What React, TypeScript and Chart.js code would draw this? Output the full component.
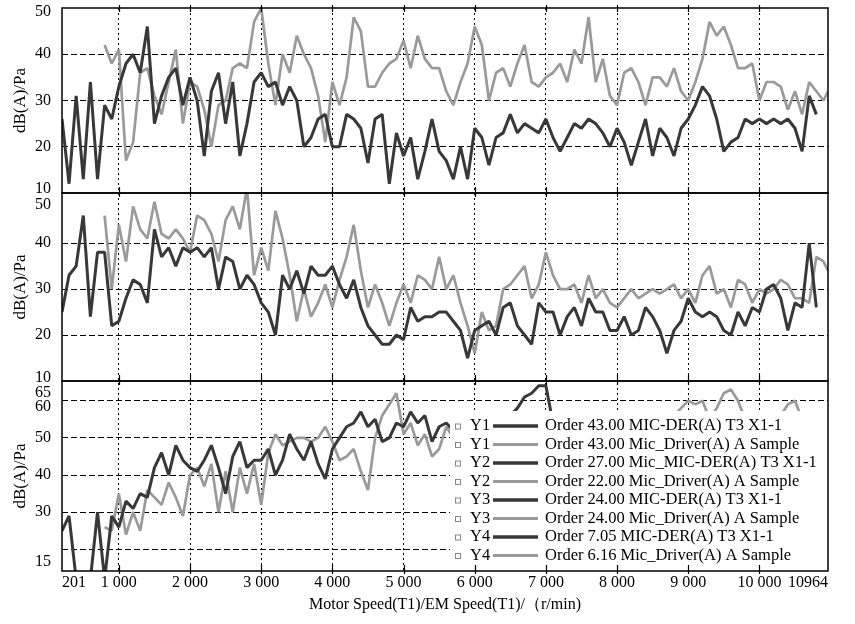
import React, { useEffect, useRef } from 'react';
import Chart from 'chart.js/auto';

// motor speed samples (r/min)
const speed = [
  201, 300, 400, 500, 600, 700, 800, 900, 1000, 1100,
  1200, 1300, 1400, 1500, 1600, 1700, 1800, 1900, 2000, 2100,
  2200, 2300, 2400, 2500, 2600, 2700, 2800, 2900, 3000, 3100,
  3200, 3300, 3400, 3500, 3600, 3700, 3800, 3900, 4000, 4100,
  4200, 4300, 4400, 4500, 4600, 4700, 4800, 4900, 5000, 5100,
  5200, 5300, 5400, 5500, 5600, 5700, 5800, 5900, 6000, 6100,
  6200, 6300, 6400, 6500, 6600, 6700, 6800, 6900, 7000, 7100,
  7200, 7300, 7400, 7500, 7600, 7700, 7800, 7900, 8000, 8100,
  8200, 8300, 8400, 8500, 8600, 8700, 8800, 8900, 9000, 9100,
  9200, 9300, 9400, 9500, 9600, 9700, 9800, 9900, 10000, 10100,
  10200, 10300, 10400, 10500, 10600, 10700, 10800, 10900, 10964,
];

// Y1 panel: order 43, MIC-DER (dark) and Mic_Driver (gray)
const y1Der = [
  26, 12, 31, 13, 34, 13, 29, 26, 33, 38,
  40, 36, 46, 25, 31, 35, 37, 29, 35, 30,
  18, 32, 36, 25, 34, 18, 25, 34, 36, 33,
  34, 29, 33, 30, 20, 22, 26, 27, 20, 20,
  27, 26, 24, 16.5, 26, 27, 12, 23, 18, 22,
  13, 19, 26, 19, 17, 13, 20, 13, 24, 22,
  16, 22, 23, 27, 23, 25, 24, 23, 26, 22,
  19, 22, 25, 24, 26, 25, 23, 20, 24, 21,
  16, 21, 26, 18, 24, 22, 18, 24, 26, 29,
  33, 31, 26, 19, 21, 22, 26, 25, 26, 25,
  26, 25, 26, 24, 19, 31, 27, null, null,
];
const y1Drv = [
  null, null, null, null, null, null, 42, 38, 41, 17,
  21, 36, 37, 31, 27, 34, 41, 25, 34, 33,
  28, 20, 29, 30, 37, 38, 37, 47, 50, 38,
  29, 40, 36, 44, 40, 37, 31, 21, 34, 29,
  35, 48, 45, 33, 33, 36, 38, 39, 43, 37,
  44, 39, 37, 37, 32, 29, 34, 38, 46, 42,
  30, 36, 37, 33, 38, 42, 34, 33, 35, 36,
  38, 34, 41, 38, 48, 34, 39, 31, 29, 36,
  37, 34, 29, 35, 35, 33, 37, 32, 30, 34,
  39, 47, 44, 46, 42, 37, 37, 38, 30, 34,
  34, 33, 28, 32, 27, 34, 32, 30, 32,
];

// Y2 panel
const y2Der = [
  25, 33, 35, 46, 24, 38, 38, 22, 23, 28,
  32, 31, 27, 43, 37, 39, 35, 39, 38, 39,
  37, 39, 30, 37, 36, 30, 33, 31, 27, 25,
  20, 33, 30, 34, 29, 35, 33, 33, 35, 31,
  28, 32, 26, 22, 20, 18, 18, 20, 19, 26,
  23, 24, 24, 25, 25, 23, 21, 15, 21, 22,
  23, 20, 26, 27, 22, 20, 18, 27, 25, 25,
  20, 24, 26, 22, 28, 25, 25, 21, 21, 24,
  20, 21, 26, 24, 21, 16, 21, 23, 28, 25,
  24, 25, 24, 21, 20, 25, 22, 26, 25, 30,
  31, 28, 21, 27, 26, 40, 26, null, null,
];
const y2Drv = [
  null, null, null, null, null, null, 46, 30, 44, 36,
  48, 43, 41, 49, 42, 41, 43, 41, 38, 46,
  45, 42, 36, 45, 48, 43, 52, 33, 39, 34,
  47, 41, 33, 23, 30, 24, 27, 31, 26, 32,
  37, 44, 34, 26, 31, 27, 22, 27, 31, 27,
  33, 32, 30, 37, 30, 33, 27, 22, 16, 25,
  21, 22, 30, 31, 33, 35, 28, 31, 38, 33,
  30, 30, 31, 27, 33, 28, 30, 27, 26, 28,
  30, 28, 29, 30, 29, 30, 31, 28, 30, 27,
  33, 35, 29, 30, 26, 32, 31, 27, 30, 29,
  30, 32, 31, 28, 28, 27, 37, 36, 34,
];

// Y3 panel (mostly hidden behind the legend above 5 700 r/min)
const y3Der = [
  25, 29, 12, 14, 12, 30, 12, 29, 26, 33,
  31, 35, 34, 42, 46, 40, 48, 44, 42, 41,
  44, 48, 42, 35, 45, 49, 42, 44, 44, 47,
  40, 44, 51, 47, 44, 49, 43, 39, 47, 50,
  53, 54, 57, 53, 55, 49, 50, 54, 53, 57,
  54, 56, 49, 53, 54, 52, 50, 53, 51, 54,
  52, 55, 53, 56, 58, 61, 62, 64, 64, 54,
  52, 55, 53, 54, 52, 55, 53, 51, 54, 52,
  55, 53, 56, 54, 52, 55, 53, 54, 52, 55,
  53, 54, 56, 53, 55, 52, 54, 53, 55, 54,
  52, 55, 53, 54, 52, 55, 53, null, null,
];
const y3Drv = [
  null, null, null, null, null, null, 26, 25, 35, 24,
  30, 25, 36, 34, 32, 38, 34, 29, 40, 42,
  37, 43, 30, 41, 30, 42, 35, 43, 32, 46,
  51, 48, 49, 50, 50, 49, 50, 53, 49, 44,
  45, 47, 41, 36, 50, 56, 59, 62, 51, 54,
  48, 51, 45, 47, 53, 50, 48, 52, 49, 51,
  47, 50, 52, 48, 51, 49, 52, 50, 53, 51,
  49, 52, 54, 51, 53, 50, 52, 54, 51, 53,
  55, 52, 54, 52, 55, 53, 56, 58, 60, 59,
  60, 55, 58, 62, 63, 60, 55, 53, 54, 52,
  54, 56, 59, 60, 55, 53, 54, 52, 53,
];

const speedTicks = [201, 1000, 2000, 3000, 4000, 5000, 6000, 7000, 8000, 9000, 10000, 10964];
const topTicks = [10, 20, 30, 40, 50];
const midTicks = [10, 20, 30, 40, 50];
const lowTicks = [15, 20, 30, 40, 50, 60, 65];

const legendAxis = ['Y1', 'Y1', 'Y2', 'Y2', 'Y3', 'Y3', 'Y4', 'Y4'];
const legendTone = ['dark', 'gray', 'dark', 'gray', 'dark', 'gray', 'dark', 'gray'];
const legendNames = [
  'Order 43.00 MIC-DER(A) T3 X1-1',
  'Order 43.00 Mic_Driver(A) A Sample',
  'Order 27.00 Mic_MIC-DER(A) T3 X1-1',
  'Order 22.00 Mic_Driver(A) A Sample',
  'Order 24.00 MIC-DER(A) T3 X1-1',
  'Order 24.00 Mic_Driver(A) A Sample',
  'Order 7.05 MIC-DER(A) T3 X1-1',
  'Order 6.16 Mic_Driver(A) A Sample',
];

const SERIF = '"Liberation Serif", "DejaVu Serif", serif';
const DARK = '#383838';
const GRAY = '#9a9a9a';
const tone = (t: string) => (t === 'dark' ? DARK : GRAY);

const fmtSpeed = (v: number) => {
  if (v === 201 || v === 10964) return String(v);
  return `${Math.floor(v / 1000)} ${String(v % 1000).padStart(3, '0')}`;
};

const series = (vals: (number | null)[], axis: string, color: string) => ({
  data: speed.map((s, i) => ({ x: s, y: vals[i] })),
  yAxisID: axis,
  borderColor: color,
  borderWidth: color === DARK ? 3 : 2.7,
  borderJoinStyle: 'bevel',
  pointRadius: 0,
  tension: 0,
  fill: false,
  clip: 0,
});

// y labels that sit on a panel border get nudged into their own panel
const yAxis = (
  min: number,
  max: number,
  ticks: number[],
  weight: number,
  gridAt: number[],
  nudge: Record<number, number>,
  hideLabel: number[] = []
) => ({
  type: 'linear',
  position: 'left',
  stack: 'panels',
  stackWeight: weight,
  min,
  max,
  afterBuildTicks: (s: any) => {
    s.ticks = ticks.map((v) => ({ value: v }));
  },
  afterFit: (s: any) => {
    s.width = 62;
    s.paddingTop = 0;
    s.paddingBottom = 0;
  },
  grid: {
    drawTicks: false,
    lineWidth: 1,
    color: (c: any) => (c.tick && gridAt.includes(c.tick.value) ? '#000' : 'rgba(0,0,0,0)'),
  },
  border: { display: false, dash: [6, 3] },
  ticks: {
    autoSkip: false,
    padding: 11,
    color: '#000',
    font: (c: any) => {
      const n = (c.tick && nudge[c.tick.value]) || 0;
      return { family: SERIF, size: 16, lineHeight: n ? `${2 * Math.abs(n)}px` : 1.2 };
    },
    callback: (v: number) => {
      const n = nudge[v] || 0;
      const t = hideLabel.includes(v) ? '' : String(v);
      return n > 0 ? ['', t] : n < 0 ? [t, ''] : t;
    },
  },
  title: {
    display: true,
    text: 'dB(A)/Pa',
    color: '#000',
    font: { family: SERIF, size: 17 },
    padding: { top: 10, bottom: 0 },
  },
});

const legendBox = {
  id: 'legendBox',
  afterDatasetsDraw(chart: any) {
    const { ctx, chartArea: a, scales } = chart;
    const low = scales.yLow;
    const left = a.right - 378;
    const top = low.bottom - 160;
    ctx.save();
    ctx.fillStyle = '#fff';
    ctx.fillRect(left, top, a.right - left, low.bottom - top);
    ctx.font = `16.5px ${SERIF}`;
    ctx.textBaseline = 'middle';
    ctx.textAlign = 'left';
    legendNames.forEach((name, i) => {
      const y = top + 15 + i * 18.5;
      ctx.strokeStyle = '#888';
      ctx.lineWidth = 1;
      ctx.strokeRect(left + 5.5, y - 2, 5, 5);
      ctx.fillStyle = '#000';
      ctx.fillText(legendAxis[i], left + 20, y);
      ctx.strokeStyle = tone(legendTone[i]);
      ctx.lineWidth = legendTone[i] === 'dark' ? 3.5 : 3;
      ctx.beginPath();
      ctx.moveTo(left + 43, y);
      ctx.lineTo(left + 88, y);
      ctx.stroke();
      ctx.fillText(name, left + 95, y);
    });
    ctx.restore();
  },
};

const panelFrame = {
  id: 'panelFrame',
  afterDraw(chart: any) {
    const { ctx, chartArea: a, scales } = chart;
    const panels = ['yTop', 'yMid', 'yLow'].map((id) => scales[id]);
    const xs = scales.x;
    ctx.save();
    ctx.setLineDash([]);
    ctx.strokeStyle = '#000';
    ctx.lineWidth = 1.5;
    panels.forEach((s: any) => ctx.strokeRect(a.left, s.top, a.right - a.left, s.bottom - s.top));
    ctx.lineWidth = 1.2;
    ctx.beginPath();
    xs.ticks.forEach((t: any) => {
      if (t.value <= 201 || t.value >= 10964) return;
      const px = Math.round(xs.getPixelForValue(t.value)) + 0.5;
      panels.forEach((s: any) => {
        ctx.moveTo(px, s.top - 3);
        ctx.lineTo(px, s.top + 4);
        ctx.moveTo(px, s.bottom - 6);
        ctx.lineTo(px, s.bottom + 3);
      });
    });
    ctx.stroke();
    ctx.restore();
  },
};

export default function App() {
  const canvasRef = useRef<HTMLCanvasElement | null>(null);

  useEffect(() => {
    const chart = new Chart(canvasRef.current as HTMLCanvasElement, {
      type: 'line',
      data: {
        datasets: [
          series(y1Der, 'yTop', DARK),
          series(y1Drv, 'yTop', GRAY),
          series(y2Der, 'yMid', DARK),
          series(y2Drv, 'yMid', GRAY),
          series(y3Der, 'yLow', DARK),
          series(y3Drv, 'yLow', GRAY),
        ] as any,
      },
      options: {
        responsive: false,
        animation: false,
        events: [],
        layout: { padding: { top: 8, right: 27, bottom: 0, left: 0 } },
        plugins: { legend: { display: false }, tooltip: { enabled: false } },
        scales: {
          x: {
            type: 'linear',
            min: 201,
            max: 10964,
            afterBuildTicks: (s: any) => {
              s.ticks = speedTicks.map((v) => ({ value: v }));
            },
            afterFit: (s: any) => {
              s.height = 53;
            },
            grid: {
              drawTicks: false,
              lineWidth: 1,
              color: (c: any) =>
                c.tick && c.tick.value > 201 && c.tick.value < 10964 ? '#000' : 'rgba(0,0,0,0)',
            },
            border: { display: false, dash: [2, 3] },
            ticks: {
              autoSkip: false,
              maxRotation: 0,
              align: 'inner',
              padding: 2,
              color: '#000',
              font: { family: SERIF, size: 16 },
              callback: (v: number) => fmtSpeed(v),
            },
            title: {
              display: true,
              text: 'Motor Speed(T1)/EM Speed(T1)/（r/min)',
              color: '#000',
              font: { family: SERIF, size: 16 },
              padding: { top: 0, bottom: 10 },
            },
          },
          yLow: yAxis(14.2, 65.3, lowTicks, 190, [20, 30, 40, 50, 60], { 15: -6, 60: 6, 65: 11 }, [20]),
          yMid: yAxis(10, 50.9, midTicks, 188, [20, 30, 40], { 10: -3, 50: 8 }),
          yTop: yAxis(10, 50, topTicks, 185, [20, 30, 40], { 10: -4, 50: 4 }),
        } as any,
      },
      plugins: [legendBox, panelFrame],
    });
    return () => chart.destroy();
  }, []);

  return (
    <div style={{ position: 'absolute', left: 0, top: 0, width: 855, height: 624, background: '#fff' }}>
      <canvas ref={canvasRef} width={855} height={624} style={{ display: 'block' }} />
    </div>
  );
}
